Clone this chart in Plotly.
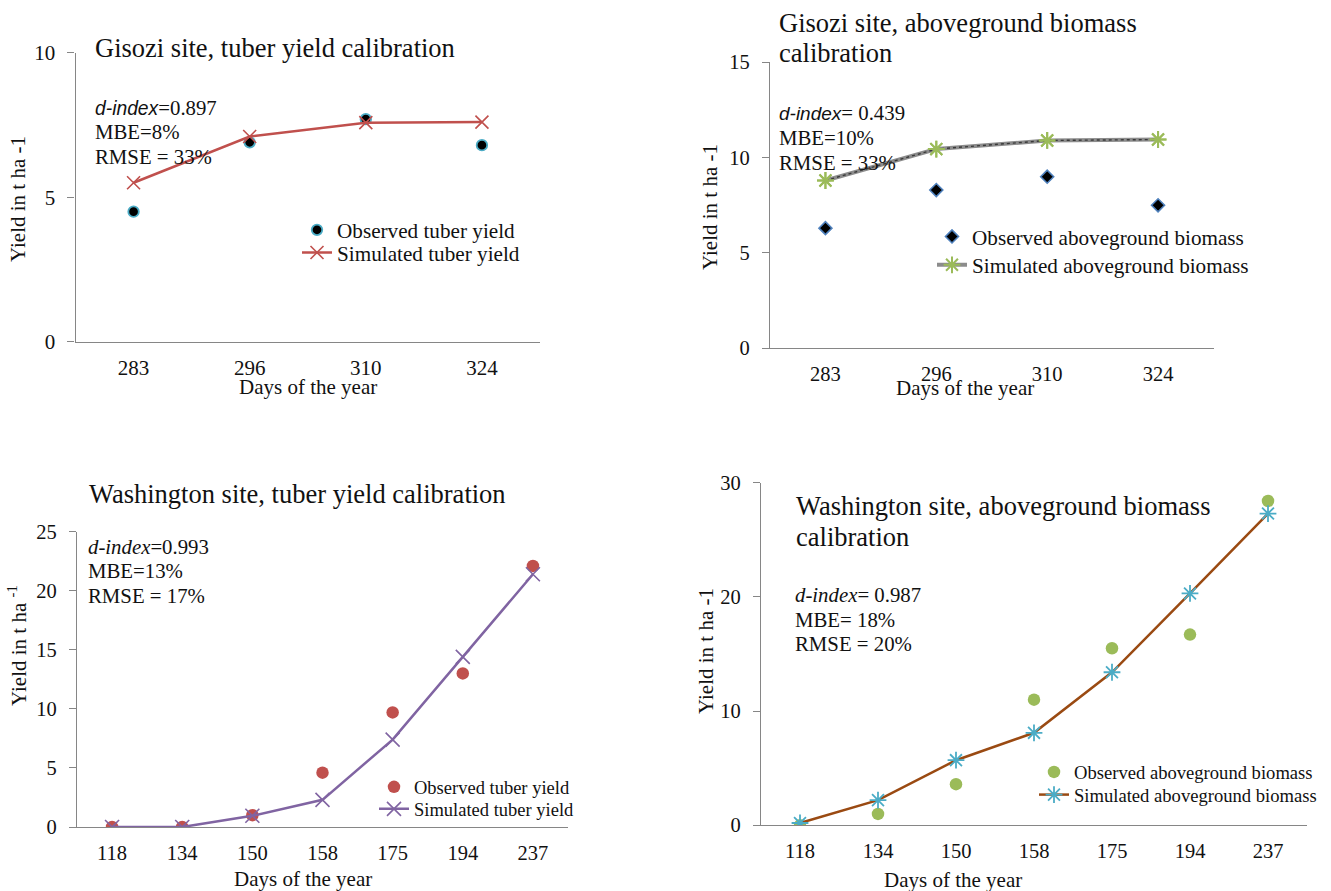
import plotly.graph_objects as go

W, H = 1331, 891

# ---- data -------------------------------------------------------------
gis_days = ["283", "296", "310", "324"]
gis_tuber_obs = [4.5, 6.9, 7.7, 6.8]
gis_tuber_sim = [5.5, 7.1, 7.58, 7.6]
gis_bio_obs = [6.3, 8.3, 9.0, 7.5]
gis_bio_sim = [8.8, 10.45, 10.9, 10.95]

was_days = ["118", "134", "150", "158", "175", "194", "237"]
was_tuber_obs = [0.0, 0.0, 1.0, 4.6, 9.7, 13.0, 22.1]
was_tuber_sim = [0.0, 0.0, 0.95, 2.3, 7.4, 14.4, 21.4]
was_bio_obs = [0.0, 1.0, 3.6, 11.0, 15.5, 16.7, 28.4]
was_bio_sim = [0.2, 2.2, 5.7, 8.1, 13.4, 20.3, 27.3]

SERIF = "Liberation Serif, Times New Roman, serif"
AXIS_GREY = "#868686"
TXT = "#111111"


def fx(px):
    return px / W


def fy(py):
    return 1 - py / H


fig = go.Figure()

# panel boxes in pixels: (left, right, top, bottom, ymax, dtick, tick font)
panels = [
    (75.5, 540, 52.7, 341.7, 10, 5, 21),
    (770, 1213.5, 62.3, 348.3, 15, 5, 20.5),
    (77, 568, 531.7, 827, 25, 5, 20.5),
    (761, 1307, 482.7, 825.3, 30, 10, 20.5),
]

for i, (l, r, t, b, ymax, dt, fs) in enumerate(panels, start=1):
    sfx = "" if i == 1 else str(i)
    cats = gis_days if i <= 2 else was_days
    fig.layout["xaxis" + sfx] = dict(
        domain=[fx(l), fx(r)], anchor="y" + sfx, type="category",
        categoryorder="array", categoryarray=cats,
        range=[-0.5, len(cats) - 0.5], showline=True, linecolor=AXIS_GREY,
        linewidth=1.3, ticks="", showgrid=False, zeroline=False,
        tickfont=dict(family=SERIF, size=fs, color=TXT),
        ticklabelstandoff=7, automargin=False,
    )
    fig.layout["yaxis" + sfx] = dict(
        domain=[fy(b), fy(t)], anchor="x" + sfx, range=[0, ymax],
        dtick=dt, showline=True, linecolor=AXIS_GREY, linewidth=1.3,
        ticks="outside", ticklen=7, tickcolor=AXIS_GREY, tickwidth=1.3,
        showgrid=False, zeroline=False, automargin=False,
        ticklabelstandoff=8,
        tickfont=dict(family=SERIF, size=fs, color=TXT),
    )


def legend_at(px, py, size):
    return dict(x=fx(px), y=fy(py), xanchor="left", yanchor="middle",
                bgcolor="rgba(0,0,0,0)", tracegroupgap=0,
                font=dict(family=SERIF, size=size, color=TXT))


# ---- panel 1: Gisozi tuber yield --------------------------------------
fig.add_trace(go.Scatter(
    x=gis_days, y=gis_tuber_obs, mode="markers", name="Observed tuber yield",
    marker=dict(symbol="circle", size=10.5, color="black",
                line=dict(color="#4bacc6", width=1.8)),
    xaxis="x", yaxis="y", legend="legend"))
fig.add_trace(go.Scatter(
    x=gis_days, y=gis_tuber_sim, mode="lines+markers",
    name="Simulated tuber yield",
    line=dict(color="#c0504d", width=2.5),
    marker=dict(symbol="x-thin-open", size=13, color="#c0504d",
                line=dict(color="#c0504d", width=1.6)),
    xaxis="x", yaxis="y", legend="legend2"))

# ---- panel 2: Gisozi aboveground biomass ------------------------------
fig.add_trace(go.Scatter(
    x=gis_days, y=gis_bio_obs, mode="markers",
    name="Observed aboveground biomass",
    marker=dict(symbol="diamond", size=10, color="black",
                line=dict(color="#4f81bd", width=1.6)),
    xaxis="x2", yaxis="y2", legend="legend3"))
fig.add_trace(go.Scatter(
    x=gis_days, y=gis_bio_sim, mode="lines+markers",
    name="Simulated aboveground biomass",
    line=dict(color="#8c8c8c", width=4),
    marker=dict(symbol="asterisk-open", size=14, color="#9bbb59",
                line=dict(color="#9bbb59", width=2)),
    xaxis="x2", yaxis="y2", legend="legend4"))
fig.add_trace(go.Scatter(
    x=gis_days, y=gis_bio_sim, mode="lines", showlegend=False,
    line=dict(color="#3a3a3a", width=1.4, dash="dot"),
    hoverinfo="skip", xaxis="x2", yaxis="y2"))
fig.add_trace(go.Scatter(
    x=gis_days, y=gis_bio_sim, mode="markers", showlegend=False,
    marker=dict(symbol="asterisk-open", size=14, color="#9bbb59",
                line=dict(color="#9bbb59", width=2)),
    hoverinfo="skip", xaxis="x2", yaxis="y2"))

# ---- panel 3: Washington tuber yield ----------------------------------
fig.add_trace(go.Scatter(
    x=was_days, y=was_tuber_obs, mode="markers", name="Observed tuber yield",
    marker=dict(symbol="circle", size=12.5, color="#c0504d"),
    xaxis="x3", yaxis="y3", legend="legend5"))
fig.add_trace(go.Scatter(
    x=was_days, y=was_tuber_sim, mode="lines+markers",
    name="Simulated tuber yield",
    line=dict(color="#8064a2", width=2.5),
    marker=dict(symbol="x-thin-open", size=14, color="#8064a2",
                line=dict(color="#8064a2", width=1.6)),
    xaxis="x3", yaxis="y3", legend="legend6"))

# ---- panel 4: Washington aboveground biomass --------------------------
fig.add_trace(go.Scatter(
    x=was_days, y=was_bio_obs, mode="markers",
    name="Observed aboveground biomass",
    marker=dict(symbol="circle", size=12.5, color="#9bbb59"),
    xaxis="x4", yaxis="y4", legend="legend7"))
fig.add_trace(go.Scatter(
    x=was_days, y=was_bio_sim, mode="lines+markers",
    name="Simulated aboveground biomass",
    line=dict(color="#9a4a12", width=2.5),
    marker=dict(symbol="asterisk-open", size=14, color="#4bacc6",
                line=dict(color="#4bacc6", width=1.8)),
    xaxis="x4", yaxis="y4", legend="legend8"))

# ---- legends: one entry each, placed row by row ------------------------
fig.update_layout(
    legend=legend_at(297, 230, 21.2),
    legend2=legend_at(297, 252.7, 21.2),
    legend3=legend_at(932, 236.7, 21.2),
    legend4=legend_at(932, 265, 21.2),
    legend5=legend_at(374, 787.3, 18.5),
    legend6=legend_at(374, 809.3, 18.5),
    legend7=legend_at(1034, 772.3, 18.6),
    legend8=legend_at(1034, 795, 18.6),
)

# ---- text -------------------------------------------------------------
ann = []


def text(px, py, s, size=21, anchor="left", angle=0):
    ann.append(dict(x=fx(px), y=fy(py), xref="paper", yref="paper",
                    text=s, showarrow=False, xanchor=anchor,
                    yanchor="middle", textangle=angle,
                    font=dict(family=SERIF, size=size, color=TXT)))


def sans_italic(px):
    return ("<span style='font-family:Liberation Sans, Arial;font-size:%spx'>"
            "<i>d-index</i></span>" % px)


# titles
text(93, 48.3, "Gisozi site, tuber yield calibration", size=26.5)
text(777, 23.3, "Gisozi site, aboveground biomass", size=26.5)
text(777, 53.3, "calibration", size=26.5)
text(87, 494, "Washington site, tuber yield calibration", size=26.5)
text(793.5, 506, "Washington site, aboveground biomass", size=26.5)
text(793.5, 536.7, "calibration", size=26.5)

# statistics
for (px, ys, lines) in [
    (93, (107.3, 131.7, 156.7),
     [sans_italic(19.3) + "=0.897", "MBE=8%", "RMSE = 33%"]),
    (777, (112.7, 137.3, 162.7),
     [sans_italic(19) + "= 0.439", "MBE=10%", "RMSE = 33%"]),
    (86, (546.7, 570.7, 595.7),
     ["<i>d-index</i>=0.993", "MBE=13%", "RMSE = 17%"]),
    (793, (594.3, 619, 643.3),
     ["<i>d-index</i>= 0.987", "MBE= 18%", "RMSE = 20%"]),
]:
    for y, s in zip(ys, lines):
        text(px, y, s, size=20.8)

# axis titles
text(18, 199, "Yield in t ha -1", anchor="center", angle=-90)
text(710, 207, "Yield in t ha -1", anchor="center", angle=-90)
text(17, 646, "Yield in t ha <sup>-1</sup>", anchor="center", angle=-90)
text(706, 651, "Yield in t ha -1", anchor="center", angle=-90)
text(308.3, 387.3, "Days of the year", anchor="center")
text(965, 388.3, "Days of the year", anchor="center")
text(303.3, 879.3, "Days of the year", anchor="center")
text(953, 880, "Days of the year", anchor="center")

fig.update_layout(
    annotations=ann, width=W, height=H,
    margin=dict(l=0, r=0, t=0, b=0, pad=0, autoexpand=False),
    paper_bgcolor="white", plot_bgcolor="white",
    showlegend=True,
)

fig.write_html("out.html")
